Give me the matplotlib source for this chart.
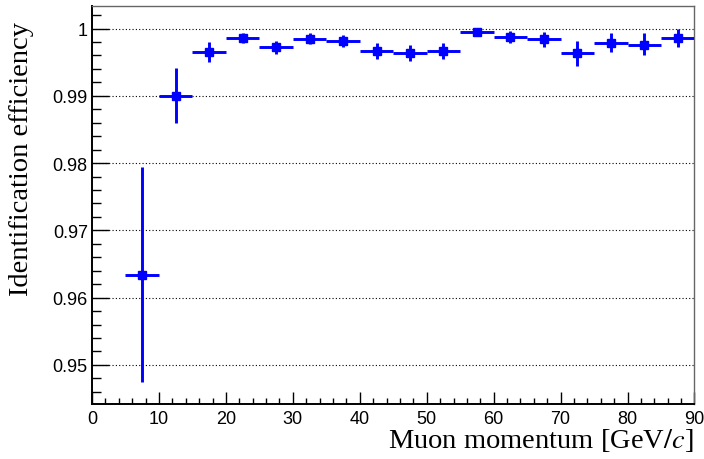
import matplotlib
matplotlib.use('Agg')
import matplotlib.pyplot as plt
from matplotlib.ticker import MultipleLocator
import numpy as np

# momentum bins (GeV/c)
bin_lo = [5, 10, 15, 20, 25, 30, 35, 40, 45, 50, 55, 60, 65, 70, 75, 80, 85]
bin_hi = [10, 15, 20, 25, 30, 35, 40, 45, 50, 55, 60, 65, 70, 75, 80, 85, 90]
eff = [0.9634, 0.9900, 0.9965, 0.9986, 0.9972, 0.9985, 0.9982, 0.9967, 0.9963,
       0.9967, 0.9995, 0.9988, 0.9984, 0.9963, 0.9979, 0.9976, 0.9986]
err_up = [0.0160, 0.0041, 0.0015, 0.0008, 0.0010, 0.0008, 0.0008, 0.0011, 0.0012,
          0.0012, 0.0003, 0.0009, 0.0011, 0.0018, 0.0015, 0.0017, 0.0014]
err_dn = [0.0160, 0.0041, 0.0015, 0.0008, 0.0010, 0.0008, 0.0009, 0.0012, 0.0012,
          0.0013, 0.0003, 0.0009, 0.0011, 0.0019, 0.0014, 0.0016, 0.0014]

BLUE = '#0000ff'
SANS = 'Liberation Sans'
SERIF = 'Liberation Serif'

fig = plt.figure(figsize=(7.04, 4.60), dpi=100)
ax = fig.add_axes([0.1307, 0.1196, 0.8558, 0.8645])

lo = np.array(bin_lo, float)
hi = np.array(bin_hi, float)
x = (lo + hi) / 2
ax.errorbar(x, eff, xerr=(hi - lo) / 2, yerr=[err_dn, err_up],
            fmt='s', color=BLUE, ms=6.2, elinewidth=2.1, capsize=0,
            mec=BLUE, zorder=3)

ax.set_xlim(0, 90)
ax.set_ylim(0.9442, 1.0033)

ax.xaxis.set_major_locator(MultipleLocator(10))
ax.xaxis.set_minor_locator(MultipleLocator(2))
ax.yaxis.set_major_locator(MultipleLocator(0.01))
ax.yaxis.set_minor_locator(MultipleLocator(0.002))

ax.tick_params(axis='x', which='major', direction='in', length=9, width=1.0, pad=4)
ax.tick_params(axis='x', which='minor', direction='in', length=4.5, width=1.0)
ax.tick_params(axis='y', which='major', direction='in', length=12.5, width=1.0, pad=3)
ax.tick_params(axis='y', which='minor', direction='in', length=6.5, width=1.0)
ax.tick_params(top=False, right=False, which='both')

ax.set_xticks(np.arange(0, 91, 10))
ax.set_xticklabels([f'{v:d}' for v in range(0, 91, 10)], fontsize=13, family=SANS)
yt = [0.95, 0.96, 0.97, 0.98, 0.99, 1.0]
ax.set_yticks(yt)
ax.set_yticklabels(['0.95', '0.96', '0.97', '0.98', '0.99', '1'], fontsize=13, family=SANS)

ax.grid(True, axis='y', which='major', color='black', linestyle=(0, (1, 2)), linewidth=0.8)

for s in ['left', 'bottom']:
    ax.spines[s].set_linewidth(1.4)
    ax.spines[s].set_color('black')
for s in ['top', 'right']:
    ax.spines[s].set_linewidth(1.0)
    ax.spines[s].set_color('#666666')

fig.text(0.985, 0.025, r'Muon momentum [GeV$/$$\mathit{c}$]', ha='right', va='baseline',
         fontsize=20.5, family=SERIF, math_fontfamily='stix')
fig.text(0.030, 0.952, 'Identification efficiency', ha='center', va='top',
         rotation=90, fontsize=20.5, family=SERIF)

fig.savefig('out.png', dpi=100)
